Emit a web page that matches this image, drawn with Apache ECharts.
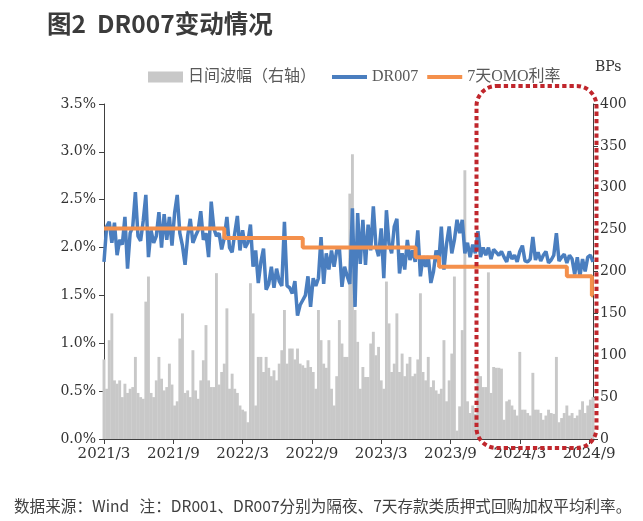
<!DOCTYPE html>
<html><head><meta charset="utf-8">
<script src="https://cdn.jsdelivr.net/npm/echarts@6/dist/echarts.min.js"></script>
<style>html,body{margin:0;padding:0;background:#fff}#c{width:643px;height:521px}</style>
</head><body><div id="c"></div>
<script>
// weekly observations starting 2021-03-01 (7-day spacing)
const startDate = '2021-03-01';
const stepDays = 7;
const dr007 = [
1.85,2.22,2.27,2.05,2.26,1.92,2.08,2.03,2.32,1.78,
2.15,2.22,2.58,2.12,2.07,2.28,2.55,1.90,2.18,2.05,
2.12,2.37,2.00,2.35,2.08,2.32,2.02,2.36,2.55,2.15,
2.02,1.82,2.12,2.30,2.05,2.12,2.18,2.38,2.08,2.15,
1.90,2.48,2.20,2.12,2.15,1.98,2.10,2.32,2.00,1.95,
2.15,2.33,1.97,2.18,2.00,2.05,2.24,1.80,1.97,1.63,
1.85,1.99,1.56,1.62,1.80,1.58,1.78,1.65,1.60,2.27,
1.60,1.58,1.52,1.65,1.29,1.40,1.45,1.50,1.70,1.38,
1.68,1.60,1.68,2.11,1.62,1.94,1.77,1.97,1.80,1.97,
2.00,1.59,1.80,1.70,1.62,2.41,1.38,2.36,1.83,2.29,
1.82,2.24,1.97,2.43,2.01,1.91,2.20,1.68,2.39,2.04,
1.94,2.22,2.30,1.73,1.94,1.77,2.08,1.87,1.97,1.85,
2.18,1.70,1.91,1.80,1.91,1.63,1.75,1.97,1.84,2.22,
1.77,2.04,2.22,1.94,2.08,2.29,2.15,2.29,1.94,2.05,
1.90,2.03,1.94,2.17,1.90,2.00,1.92,2.00,1.88,1.98,
1.95,1.92,1.96,1.90,1.85,1.96,1.88,1.92,1.85,1.96,
2.02,1.86,1.85,1.88,2.11,1.87,1.95,1.86,1.92,1.96,
1.84,1.87,1.92,2.15,1.86,1.90,1.93,1.84,1.92,1.88,
1.72,1.90,1.70,1.88,1.75,1.90,1.92,1.85
];
const spreadBp = [
95,60,118,150,70,66,70,50,66,55,
60,62,98,55,50,48,164,194,55,50,
70,98,72,58,62,90,65,40,45,120,
150,55,58,50,106,58,48,70,94,136,
70,62,62,198,65,80,90,156,60,78,
60,55,40,35,33,20,186,150,40,98,
98,80,98,85,75,82,70,90,106,154,
90,108,108,95,108,90,88,85,94,86,
80,60,154,118,90,85,118,60,40,75,
142,114,98,98,293,340,154,116,60,86,
74,74,114,128,100,110,70,60,188,138,
80,90,150,80,102,75,90,98,75,78,
95,174,80,70,98,62,70,58,54,60,
118,45,70,102,194,10,39,130,321,45,
31,40,30,79,75,62,62,199,55,86,
85,85,84,23,45,47,40,35,28,104,
35,35,31,28,79,35,35,31,23,28,
35,31,30,98,20,25,31,40,28,31,
25,28,35,45,31,40,47,50
];
const omoDates = ['2021-03-01','2022-01-17','2022-08-15','2023-06-13','2023-08-15','2024-07-22','2024-09-27','2024-09-30'];
const omoRates = [2.2,2.1,2.0,1.9,1.8,1.7,1.5,1.5];
const xTickLabels = ['2021/3','2021/9','2022/3','2022/9','2023/3','2023/9','2024/3','2024/9'];
const seriesNames = ['日间波幅（右轴）','DR007','7天OMO利率'];

const DAY = 86400000;
const t0 = Date.parse(startDate + 'T00:00:00Z');
const dayOf = s => (Date.parse(s + 'T00:00:00Z') - t0) / DAY;
const xMax = (dr007.length - 1) * stepDays;
const tickStep = xMax * 69.3 / 489;
const tickVals = xTickLabels.map((_, k) => k * tickStep);

const drData = dr007.map((v, i) => [i * stepDays, v]);
const barData = spreadBp.map((v, i) => [i * stepDays, v]);
const omoData = omoDates.map((d, i) => [dayOf(d), omoRates[i]]);

const serif = "'DejaVu Serif', serif";
const legendFont = "'Liberation Serif', 'Noto Sans CJK SC', serif";
const axisColor = '#404040';
const legendText = {fontSize: 16, color: '#595959', fontFamily: legendFont};

const chart = echarts.init(document.getElementById('c'), null, {renderer: 'canvas'});
chart.setOption({
  animation: false,
  backgroundColor: '#fff',
  title: [
    {text: '图2  DR007变动情况', left: 42, top: 6,
     textStyle: {fontSize: 24.5, fontWeight: 'bold', color: '#3b3b3b', fontFamily: "'Noto Sans CJK SC', sans-serif"}},
    {text: '数据来源：Wind   注：DR001、DR007分别为隔夜、7天存款类质押式回购加权平均利率。', left: 9, top: 493,
     textStyle: {fontSize: 15.6, fontWeight: 'normal', color: '#404040', fontFamily: "'Noto Sans CJK SC', sans-serif"}}
  ],
  legend: [
    {left: 143, top: 64, itemWidth: 35, itemHeight: 11, itemGap: 10,
     data: [{name: seriesNames[0], icon: 'rect'}], textStyle: legendText},
    {left: 327, top: 64, itemWidth: 35, itemHeight: 4, itemGap: 9,
     data: [{name: seriesNames[1], icon: 'rect'}, {name: seriesNames[2], icon: 'rect'}],
     textStyle: legendText}
  ],
  grid: {left: 104, right: 50, top: 104, bottom: 82},
  xAxis: {
    type: 'value', min: 0, max: xMax,
    axisLine: {show: true, lineStyle: {color: axisColor, width: 1}},
    axisTick: {show: true, customValues: tickVals, length: 5, lineStyle: {color: axisColor}},
    axisLabel: {customValues: tickVals, margin: 8, fontSize: 15, color: '#333', fontFamily: serif,
      formatter: v => xTickLabels[Math.round(v / tickStep)] || ''},
    splitLine: {show: false}
  },
  yAxis: [
    {type: 'value', min: 0, max: 3.5, interval: 0.5, position: 'left',
     axisLine: {show: true, lineStyle: {color: axisColor}},
     axisTick: {show: true, length: 5, lineStyle: {color: axisColor}},
     axisLabel: {fontSize: 14, color: '#333', fontFamily: serif, margin: 8,
       formatter: v => v.toFixed(1) + '%'},
     splitLine: {show: false}},
    {type: 'value', min: 0, max: 400, interval: 50, position: 'right',
     name: 'BPs', nameLocation: 'end', nameGap: 30,
     nameTextStyle: {fontSize: 14, color: '#333', fontFamily: serif, align: 'left', padding: [0, 0, 0, 2]},
     axisLine: {show: true, lineStyle: {color: axisColor}},
     axisTick: {show: true, length: 5, lineStyle: {color: axisColor}},
     axisLabel: {fontSize: 14, color: '#333', fontFamily: serif, margin: 7},
     splitLine: {show: false}}
  ],
  series: [
    {name: seriesNames[0], type: 'bar', yAxisIndex: 1, data: barData, barWidth: 2.9,
     itemStyle: {color: '#c8c8c8'}, z: 1},
    {name: seriesNames[1], type: 'line', yAxisIndex: 0, data: drData, symbol: 'none',
     lineStyle: {color: '#4a7ebf', width: 3.5}, itemStyle: {color: '#4a7ebf'}, z: 3},
    {name: seriesNames[2], type: 'line', yAxisIndex: 0, data: omoData, symbol: 'none', step: 'end',
     lineStyle: {color: '#f4904c', width: 4}, itemStyle: {color: '#f4904c'}, z: 4}
  ],
  graphic: [
    {type: 'rect', z: 100, silent: true,
     shape: {x: 476.5, y: 86, width: 120, height: 362, r: 20},
     style: {fill: 'none', stroke: '#c0262c', lineWidth: 4, lineDash: [4.3, 3]}}
  ]
});
</script>
</body></html>
